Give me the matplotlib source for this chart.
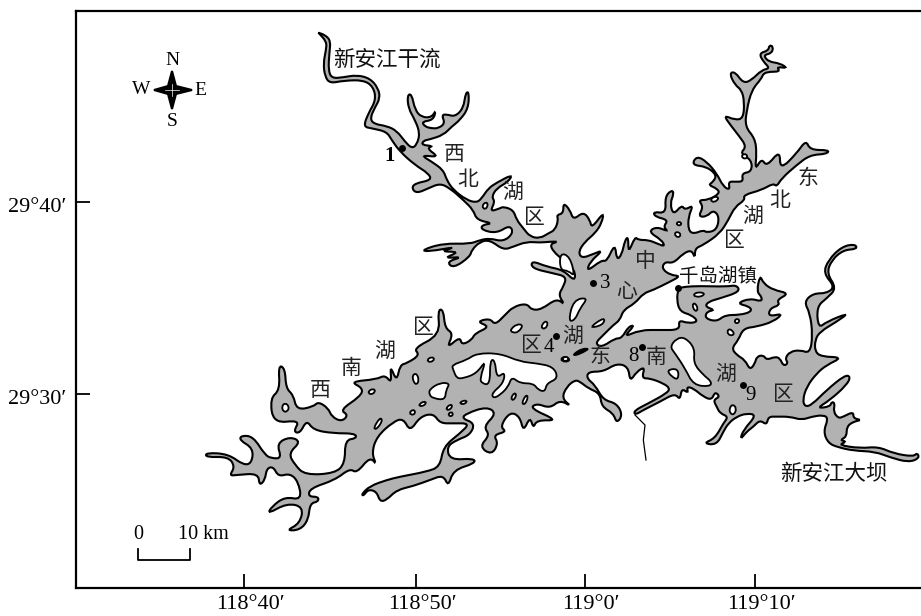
import matplotlib
matplotlib.use("Agg")
import matplotlib.pyplot as plt
import numpy as np
from matplotlib.patches import PathPatch
from matplotlib.path import Path
from matplotlib.transforms import ScaledTranslation

# shoreline digitised from the map, each run in the 3x units of its own sheet
# (sheet name -> origin of the sheet on the map)
sheets = {"nw": (300, 20), "ne": (560, 30), "se": (560, 260), "sw": (200, 300)}

shore_runs = [
    ("nw", [(55,38),(75,45),(92,62),(88,100),(85,150),(95,175),(130,172),(170,165),(210,175),(235,205),(240,235),
            (225,262),(210,295),(222,312),(260,318),(290,332),(315,365),(335,385),(350,375),(360,340),(345,300),
            (325,265),(322,225),(335,222),(345,270),(365,292),(395,292),(408,270),(400,300),(365,305),(375,320),
            (395,325),(415,325),(435,310),(425,285),(440,283),(465,290),(490,265),(497,218),(507,216),(505,265),
            (480,300),(455,320),(430,345),(390,358),(370,362),(365,375),(400,378),(380,385),(418,412),(362,405),
            (395,425),(430,450),(440,480),(460,510),(500,540),(530,548),(545,535),(565,505),(590,488),(638,463),
            (625,485),(590,505),(575,530),(585,545),(570,575),(600,565),(610,560),(640,570),(650,600),(670,625),
            (690,650),(720,655),(745,640),(765,630),(775,600),(770,585),(790,580),(790,548),(810,570),(820,600),
            (850,575),(870,600),(875,625),(912,575),(905,610),(885,640)]),
    ("ne", [(75,635),(55,665),(65,685),(100,672),(130,660),(90,695),(80,725),(125,690),(140,695),(165,640),(170,690),
            (185,675),(195,630),(205,620),(205,670),(225,620),(235,630),(265,630),(290,640),(315,650),(305,630),
            (265,605),(290,590),(325,605),(310,590),(325,570),(285,560),(280,545),(318,550),(315,500),(335,480),
            (342,490),(330,520),(340,555),(365,525),(375,540),(400,525),(385,560),(385,600),(400,612),(430,600),
            (440,608),(470,600),(478,560),(460,540),(440,560),(415,560),(430,530),(415,510),(445,510),(480,490),
            (470,475),(445,465),(460,455),(470,435),(440,410),(395,405),(410,378),(440,395),(470,430),(490,470),
            (510,480),(505,455),(525,455),(550,455),(545,430),(575,425),(575,390),(540,370),(560,350),(535,315),
            (515,290),(490,255),(525,270),(550,265),(553,215),(545,180),(525,165),(508,130),(525,125),(550,160),
            (575,150),(605,120),(630,115),(610,95),(597,70),(625,62),(628,45),(640,50),(635,70),(610,75),(625,95),
            (660,100),(683,115),(650,110),(660,125),(630,125),(610,130),(605,145),(575,180),(560,240),(555,290),
            (585,325),(590,370),(585,420),(605,385),(620,410),(660,360),(660,420),(710,370),(738,330),(750,360),
            (808,360),(800,372),(750,375),(710,405),(665,445),(650,470),(640,460),(605,480),(550,495),(555,510),
            (525,530),(505,570),(480,610),(430,645),(405,655),(405,685),(395,660),(370,670),(340,700),(315,695),
            (305,715),(330,735),(362,738)]),
    ("se", [(330,65),(280,90),(250,100),(225,130),(190,150),(180,180),(160,195),(130,225),(105,250),(125,262),
            (165,235),(185,235),(205,200),(225,195),(190,232),(240,210),(300,210),(360,210),(355,180),(385,190),
            (415,185),(395,165),(360,155),(350,120),(355,85),(375,80),(420,78),(500,80),(530,75),(540,95),(480,115),
            (445,125),(435,140),(465,150),(440,155),(435,175),(470,185),(495,165),(540,165),(575,155),(570,140),
            (530,130),(570,115),(605,125),(605,110),(590,95),(600,45),(610,70),(640,90),(688,100),(650,120),(660,135),
            (630,145),(625,170),(670,160),(640,185),(590,200),(550,205),(535,240),(515,265),(530,285),(555,300),
            (570,330),(585,310),(590,290),(610,285),(620,300),(645,290),(660,295),(670,318),(685,310),(675,295),
            (690,275),(720,270),(750,280),(758,225),(750,160)]),
    ("ne", [(732,815),(760,790),(800,790),(825,770),(790,730),(805,690),(845,650),(885,642),(892,657),(850,660),
            (815,690),(800,730),(830,775),(800,805),(770,830)]),
    ("se", [(775,205),(800,185),(868,158),(830,185),(780,215),
            (765,240),(765,275),(785,290),(848,292),(800,315),(770,340),(740,380),(728,420),(735,440),(755,435),
            (800,390),(855,345),(872,350),(860,375),(810,420),(770,445),(810,440),(815,425),(825,430),(820,455),
            (835,475),(850,470),(880,455),(880,475),(905,480),(880,485),(860,500),(860,530),(840,540),(860,545),
            (835,555),(900,565),(955,560),(1000,580),(1060,590),(1072,578),(1078,595),(1045,607),(990,592),(945,575),
            (880,572),(835,562),(805,550),(790,515),(805,475),(790,465),(755,470),(725,480),(690,470),(650,470),
            (625,470),(620,495),(600,480),(580,500),(560,515),(540,540),(550,510),(590,465),(560,460),(530,470),
            (505,490),(490,515),(470,555),(430,550),(465,535),(490,490),(505,470),(480,460),(470,440),(460,420),
            (480,410),(465,395),(455,420),(430,410),(400,385),(380,380),(385,400),(365,385),(360,420),(345,400),
            (300,425),(250,450),(225,465),(222,452),(265,430),(320,400),(330,385),(310,370),(270,355),(245,355),
            (255,320),(230,335),(210,365),(205,320),(170,310),(130,335),(85,335),(80,355),(105,375),(130,420),
            (170,430),(188,465),(170,490),(160,460),(125,440),(120,400),(85,385),(60,365),(45,360)]),
    ("sw", [(1100,260),(1085,295),(1115,320),(1080,300),(1050,325),(1010,310),(990,325),(1075,362),(1010,360),
            (1000,385),(990,350),(970,395),(960,350),(930,335),(900,380),(920,395),(880,405),(895,430),(875,465),
            (838,440),(870,405),(850,380),(890,340),(860,320),(800,340),(785,355),(825,370),(810,405),(770,420),
            (740,440),(750,480),(822,475),(825,490),(760,510),(745,560),(730,525),(690,540),(640,558),(590,570),
            (560,600),(540,605),(530,575),(505,568),(490,588),(485,582),(510,558),(560,540),(600,530),(680,515),
            (720,500),(730,440),(780,400),(810,370),(760,370),(720,370),(700,340),(660,350),(630,395),(610,355),
            (580,365),(530,410),(515,460),(530,495),(510,470),(470,520),(450,505),(405,540),(330,565),(325,590),
            (355,590),(355,605),(330,610),(325,660),(300,690),(258,692),(300,670),(310,620),(260,610),(203,642),
            (215,620),(255,590),(305,600),(295,545),(270,520),(235,530),(220,500),(200,505),(195,540),(178,557),
            (175,520),(110,525),(88,527),(105,500),(85,470),(18,472),(18,458),(85,462),(130,495),(155,490),(160,445),
            (118,420),(125,406),(160,410),(195,465),(215,475),(245,475),(230,430),(270,410),(303,425),(265,460),
            (285,495),(315,525),(405,520),(435,490),(435,420),(470,415),(465,400),(400,400),(340,390),(320,360),
            (300,400),(280,395),(300,360),(220,370),(210,295),(240,270),(235,195),(255,205),(258,265),(280,285),
            (290,330),(340,320),(355,305),(385,325),(395,350),(425,365),(445,345),(420,330),(480,290),(490,265),
            (450,245),(530,238),(555,225),(575,250),(570,195),(590,245),(600,195),(620,190),(660,165),(640,145),
            (720,105),(713,30),(730,28),(735,85),(760,100),(740,145),(780,110),(785,135),(815,120),(825,100),
            (870,80),(830,65),(870,55),(885,75)]),
    ("nw", [(615,885),(640,860),(680,850),(695,870),(725,868),(770,835),(795,855),(775,825),(790,800),(800,770),
            (760,760),(695,745),(695,722),(740,740),(790,750),(825,785),(825,750),(790,720),(760,695),(750,672),
            (775,665),(750,665),(720,668),(680,665),(640,680),(610,690),(570,660),(540,665),(515,690),(510,710),
            (460,745),(440,725),(490,710),(430,715),(480,695),(420,695),(470,680),(385,695),(365,690),(430,670),
            (510,672),(540,660),(570,655),(610,665),(640,640),(630,615),(590,640),(545,630),(545,615),(580,610),
            (530,600),(520,570),(490,540),(450,505),(420,490),(385,505),(350,520),(335,505),(345,490),(395,480),
            (385,460),(345,435),(300,395),(275,360),(260,335),(215,325),(190,320),(205,280),(228,240),(220,200),
            (190,180),(130,182),(90,190),(75,170),(70,130),(78,90),(80,65),(55,38)]),
]

islands = [
    ("sw", [(245,320),(255,308),(268,320),(262,335),(250,335)]),
    ("sw", [(503,275),(520,265),(527,275),(512,285)]),
    ("sw", [(680,180),(695,170),(705,178),(690,188)]),
    ("sw", [(637,225),(650,220),(657,240),(650,255),(640,245)]),
    ("sw", [(930,90),(950,72),(970,75),(955,97),(938,98)]),
    ("sw", [(1022,82),(1035,62),(1045,70),(1035,88)]),
    ("sw", [(1080,178),(1095,168),(1112,180),(1095,187)]),
    ("sw", [(655,315),(672,303),(680,310),(665,320)]),
    ("sw", [(520,385),(540,352),(548,362),(530,388)]),
    ("sw", [(627,340),(638,328),(647,335),(640,346)]),
    ("sw", [(778,308),(795,300),(802,306),(788,314)]),
    ("sw", [(737,325),(752,312),(758,320),(745,332)]),
    ("sw", [(744,342),(755,335),(760,345),(750,350)]),
    ("sw", [(932,295),(943,278),(950,285),(940,302)]),
    ("sw", [(965,310),(977,285),(985,290),(975,314)]),
    ("sw", [(688,268),(720,248),(750,250),(738,270),(735,300),(700,295),(688,285)]),
    ("sw", [(755,195),(800,180),(830,160),(900,160),(960,185),(1010,190),(1060,200),(1075,235),(1040,250),
            (1035,275),(1015,270),(1000,250),(960,250),(935,230),(925,260),(900,285),(880,295),(875,280),
            (910,250),(915,215),(890,235),(885,180),(870,180),(870,255),(845,250),(840,235),(858,180),
            (830,220),(790,235),(770,235),(760,210)]),
    ("nw", [(545,558),(558,545),(565,555),(555,570)]),
    ("ne", [(348,580),(358,574),(366,582),(356,588)]),
    ("ne", [(342,612),(352,604),(364,614),(354,624)]),
    ("ne", [(543,380),(553,370),(564,378),(556,388)]),
    ("ne", [(450,510),(465,498),(478,505),(462,518)]),
    ("ne", [(0,668),(30,680),(45,740),(25,722),(0,720)]),
    ("se", [(400,103),(415,96),(435,100),(425,110),(405,110)]),
    ("se", [(396,135),(405,128),(415,148),(405,155)]),
    ("se", [(522,183),(532,175),(540,183),(530,192)]),
    ("se", [(500,215),(510,205),(525,222),(510,228)]),
    ("se", [(330,260),(350,235),(375,232),(405,265),(400,310),(430,345),(455,365),(450,380),(400,375),(375,325),(345,280)]),
    ("se", [(320,330),(355,325),(355,360),(335,350)]),
    ("se", [(508,445),(518,432),(530,445),(522,465),(510,460)]),
    ("se", [(5,297),(18,288),(28,298),(15,305)]),
    ("se", [(85,205),(135,170),(130,195)]),
    ("se", [(25,185),(40,120),(85,112),(60,145),(45,180)]),
]

inflow_river = ("se", [(225,465),(255,495),(250,540),(258,600)])
dark_sliver = ("se", [(38,283),(65,265),(90,265),(70,278),(45,288)])

stations = {"1": (402, 148), "3": (593, 283), "4": (556, 336), "8": (642, 347), "9": (743, 385)}
town_dot = (678, 288)
station_labels = [("1", 390, 156, "bold"), ("3", 605, 283, "normal"), ("4", 549, 347, "normal"),
                  ("8", 633, 356, "normal"), ("9", 751, 395, "normal")]

place_labels = [("新安江干流", 387, 60, 15.5), ("新安江大坝", 834, 474, 15.5), ("千岛湖镇", 718, 276, 14)]
zone_labels = [("西", 454, 154), ("北", 468, 179), ("湖", 513, 192), ("区", 534, 217),
               ("东", 808, 178), ("北", 780, 200), ("湖", 753, 216), ("区", 734, 240),
               ("中", 645, 261), ("心", 627, 291), ("湖", 573, 336), ("区", 531, 345),
               ("东", 600, 356), ("南", 656, 357), ("湖", 726, 374), ("区", 783, 394),
               ("西", 320, 390), ("南", 351, 368), ("湖", 385, 351), ("区", 423, 327)]

lon_pos = [244, 416, 585, 755]
lon_labels = ["118°40′", "118°50′", "119°0′", "119°10′"]
lat_pos = [202, 394]
lat_labels = ["29°40′", "29°30′"]

serif = "Liberation Serif"
cjk = ["Noto Sans CJK SC", "DejaVu Sans"]


def place(run):
    x0, y0 = sheets[run[0]]
    pts = np.array(run[1], dtype=float)
    return np.column_stack([x0 + pts[:, 0] / 3, y0 + pts[:, 1] / 3])


def rounded(pts):
    # vertices become quadratic control points, so the shore has no hard corners
    mids = (pts + np.roll(pts, -1, axis=0)) / 2
    verts = [mids[-1]]
    codes = [Path.MOVETO]
    for p, m in zip(pts, mids):
        verts += [p, m]
        codes += [Path.CURVE3, Path.CURVE3]
    return Path(verts, codes)


fig = plt.figure(figsize=(9.21, 6.16), dpi=100)
ax = fig.add_axes([76 / 921, 1 - 588 / 616, 845 / 921, 577 / 616])
ax.set_xlim(76, 921)
ax.set_ylim(588, 11)

shore = np.vstack([place(r) for r in shore_runs])
ax.add_patch(PathPatch(rounded(shore), fc="#b2b2b2", ec="black", lw=1.5))
for isl in islands:
    ax.add_patch(PathPatch(rounded(place(isl)), fc="white", ec="black", lw=1.3))
ax.add_patch(PathPatch(rounded(place(dark_sliver)), fc="black", ec="black", lw=0.8))
river = place(inflow_river)
ax.plot(river[:, 0], river[:, 1], color="black", lw=0.9)

for x, y in list(stations.values()) + [town_dot]:
    ax.plot(x, y, "o", color="black", ms=5, mec="none")

for s, x, y, w in station_labels:
    ax.text(x, y, s, family=serif, fontsize=15, weight=w, ha="center", va="center")
for s, x, y, size in place_labels:
    ax.text(x, y, s, family=cjk, fontsize=size, ha="center", va="center", color="#111111")
for s, x, y in zone_labels:
    ax.text(x, y, s, family=cjk, fontsize=15, ha="center", va="center", color="#222222")

# compass
star_x = [172, 176, 192, 176, 172, 168, 154, 168]
star_y = [71, 86, 90, 94, 109, 94, 90, 86]
ax.fill(star_x, star_y, fc="black", ec="black", lw=1.5)
ax.plot([172, 172], [84, 96], color="white", lw=0.5)
ax.plot([165, 179], [90, 90], color="white", lw=0.5)
for s, x, y in [("N", 172, 60), ("S", 172, 121), ("W", 141, 89), ("E", 200, 90)]:
    ax.text(x, y, s, family=serif, fontsize=14, ha="center", va="center")

# scale bar
ax.plot([138, 138, 190, 190], [549, 560, 560, 549], color="black", lw=1.3)
ax.text(138, 534, "0", family=serif, fontsize=14.5, ha="center", va="center")
ax.text(178, 534, "10 km", family=serif, fontsize=14.5, ha="left", va="center")

ax.set_xticks(lon_pos)
ax.set_xticklabels(lon_labels, family=serif, fontsize=16)
ax.set_yticks(lat_pos)
ax.set_yticklabels(lat_labels, family=serif, fontsize=16)
ax.tick_params(axis="both", direction="in", length=10, width=1.3, pad=7)
ax.tick_params(axis="x", pad=5)
for lab in ax.get_xticklabels():
    lab.set_transform(lab.get_transform() + ScaledTranslation(6 / 100, 0, fig.dpi_scale_trans))
for lab in ax.get_yticklabels():
    lab.set_transform(lab.get_transform() + ScaledTranslation(0, -3 / 100, fig.dpi_scale_trans))
for side in ["top", "left", "bottom"]:
    ax.spines[side].set_linewidth(1.6)
ax.spines["right"].set_visible(False)

fig.savefig("out.png", dpi=100)
